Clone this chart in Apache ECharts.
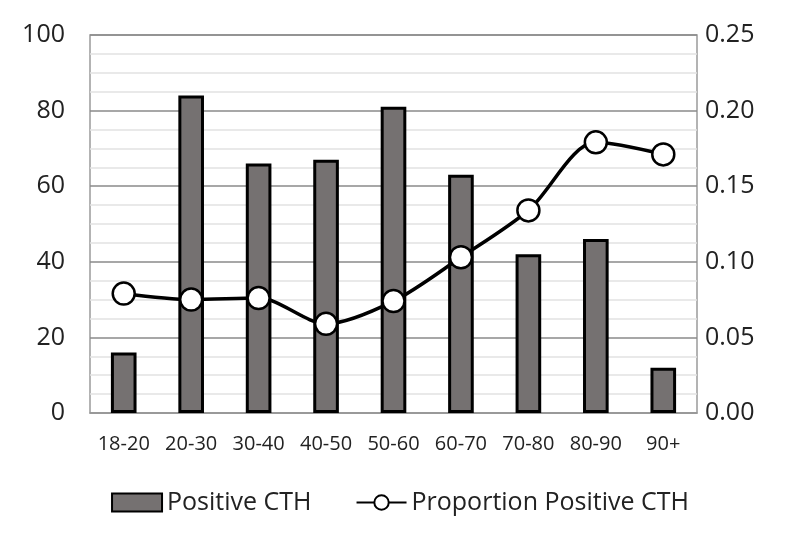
<!DOCTYPE html>
<html><head><meta charset="utf-8">
<script src="https://cdn.jsdelivr.net/npm/echarts@6/dist/echarts.min.js"></script>
<style>html,body{margin:0;padding:0;background:#fff}#c{width:800px;height:542px}</style>
</head><body><div id="c"></div>
<script>
const categories = ['18-20','20-30','30-40','40-50','50-60','60-70','70-80','80-90','90+'];
const positiveCTH = [16, 84, 66, 67, 81, 63, 42, 46, 12];
const proportionPositiveCTH = [0.079, 0.075, 0.076, 0.059, 0.074, 0.103, 0.134, 0.179, 0.171];
const font = '"Open Sans", "Noto Sans", sans-serif';
const chart = echarts.init(document.getElementById('c'));
chart.setOption({
  animation: false,
  backgroundColor: '#fff',
  grid: {left: 90, right: 103, top: 35, bottom: 129, show: true, borderColor: '#9a9a9a', borderWidth: 1.5},
  legend: {
    bottom: 22, left: 'center', itemGap: 44, itemWidth: 50, itemHeight: 18,
    textStyle: {fontFamily: font, fontSize: 25, color: '#222'},
    data: [
      {name: 'Positive CTH', icon: 'rect'},
      {name: 'Proportion Positive CTH'}
    ]
  },
  xAxis: {
    type: 'category', data: categories,
    axisLine: {lineStyle: {color: '#9a9a9a', width: 1.5}},
    axisTick: {show: false},
    axisLabel: {interval: 0, hideOverlap: false, fontFamily: font, fontSize: 20, color: '#222', margin: 21}
  },
  yAxis: [
    {
      type: 'value', min: 0, max: 100, interval: 20,
      axisLine: {show: false}, axisTick: {show: false},
      axisLabel: {fontFamily: font, fontSize: 25, color: '#222', margin: 25},
      splitLine: {lineStyle: {color: '#8a8a8a', width: 1.5}},
      minorTick: {show: false, splitNumber: 4},
      minorSplitLine: {show: true, lineStyle: {color: '#e2e2e2', width: 1.5}}
    },
    {
      type: 'value', min: 0, max: 0.25, interval: 0.05,
      axisLine: {show: false}, axisTick: {show: false}, splitLine: {show: false},
      axisLabel: {fontFamily: font, fontSize: 25, color: '#222', margin: 8, formatter: v => v.toFixed(2)}
    }
  ],
  series: [
    {
      name: 'Positive CTH', type: 'bar', data: positiveCTH, barWidth: '38%',
      itemStyle: {color: '#757171', borderColor: '#000', borderWidth: 3}
    },
    {
      name: 'Proportion Positive CTH', type: 'line', yAxisIndex: 1, data: proportionPositiveCTH,
      smooth: 0.3, symbol: 'circle', symbolSize: 22,
      lineStyle: {color: '#000', width: 3.5},
      itemStyle: {color: '#fff', borderColor: '#000', borderWidth: 2.5}
    }
  ]
});
</script></body></html>
